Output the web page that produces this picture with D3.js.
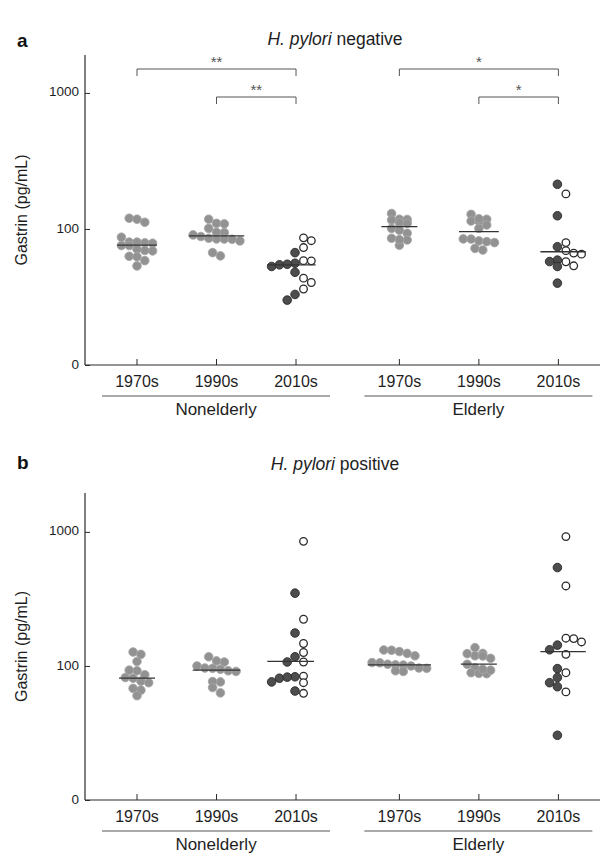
<!DOCTYPE html>
<html><head><meta charset="utf-8">
<script src="https://cdn.jsdelivr.net/npm/d3@7"></script>
<style>body{margin:0;background:#fff;} svg{display:block;font-family:"Liberation Sans",Arial,Helvetica,sans-serif;}</style>
</head><body><svg id="c" width="607" height="856"></svg>
<script>
// ---------- data ----------
const periods = ["1970s", "1990s", "2010s"];
const ageGroups = ["Nonelderly", "Elderly"];
const yTickValues = [10, 100, 1000];
const yTickLabels = ["0", "100", "1000"];

// Panel a: H. pylori negative (gastrin, pg/mL)
const negNon1970s = [120, 112, 118, 87, 80, 79, 78.6, 75.5, 75.5, 80, 69, 69.5, 71, 63, 62.5, 58.5, 53.5];
const negNon1990s = [110, 118, 109, 101, 94, 94.6, 84.5, 84.3, 84, 88, 85.5, 81.7, 90.4, 63.4, 67];
const negNon2010sFilled = [67, 56, 53, 54.5, 55, 48, 33, 30];
const negNon2010sOpen = [86, 82, 73, 58.3, 58.5, 43.5, 40.4, 36.2];
const negEld1970s = [130, 118, 117.5, 116.4, 111, 110, 101, 98, 93, 83, 76, 83.5, 85.5];
const negEld1990s = [128, 114.4, 114, 117.8, 119, 107, 101, 81.7, 79.4, 84.5, 84.3, 80.7, 72, 70];
const negEld2010sFilled = [213, 125, 74, 59, 53, 57.6, 40];
const negEld2010sOpen = [181, 79.4, 69.3, 65.3, 66.4, 57.4, 53.6];
const negMeans = [76, 89, 54.5, 104, 95.6, 68];

// Panel b: H. pylori positive
const posNon1970s = [127, 122, 108, 92, 93, 82, 77, 75, 81, 86, 66, 68, 60];
const posNon1990s = [117, 107, 109, 100, 96, 92, 91, 94.5, 96.5, 76, 76.5, 69, 63];
const posNon2010sFilled = [349, 176, 117, 107, 83, 81, 76, 82.5, 65];
const posNon2010sOpen = [850, 223, 147, 126, 107, 84, 75, 62.5];
const posEld1970s = [119, 131, 131.5, 128, 124, 102, 101.5, 96, 106, 91, 105.5, 92, 103, 96.5, 100];
const posEld1990s = [137, 119, 124, 114, 123.5, 118.5, 103, 97, 89, 88, 87.6, 93, 94.5];
const posEld2010sFilled = [542, 132, 143, 95.5, 82, 75, 70, 30.4];
const posEld2010sOpen = [922, 395, 161, 151, 160, 122, 89, 64];
const posMeans = [81, 93, 108, 102, 103, 128];

// significance brackets for panel a: [age, fromPeriod, toPeriod, label, level]
const negBrackets = [
  ["Nonelderly", "1970s", "2010s", "**", 0],
  ["Nonelderly", "1990s", "2010s", "**", 1],
  ["Elderly", "1970s", "2010s", "*", 0],
  ["Elderly", "1990s", "2010s", "*", 1]
];

// ---------- build ----------
function buildGroups(g, means) {
  return [
    {age: "Nonelderly", period: "1970s", gray: g[0], filled: [], open: [], mean: means[0]},
    {age: "Nonelderly", period: "1990s", gray: g[1], filled: [], open: [], mean: means[1]},
    {age: "Nonelderly", period: "2010s", gray: [], filled: g[2], open: g[3], mean: means[2]},
    {age: "Elderly", period: "1970s", gray: g[4], filled: [], open: [], mean: means[3]},
    {age: "Elderly", period: "1990s", gray: g[5], filled: [], open: [], mean: means[4]},
    {age: "Elderly", period: "2010s", gray: [], filled: g[6], open: g[7], mean: means[5]}
  ];
}
const panels = [
  {letter: "a", status: "negative", bottom: 365, top: 55, ymax: 1900, titleY: 40, letterY: 42,
   groups: buildGroups([negNon1970s, negNon1990s, negNon2010sFilled, negNon2010sOpen, negEld1970s, negEld1990s, negEld2010sFilled, negEld2010sOpen], negMeans),
   brackets: negBrackets},
  {letter: "b", status: "positive", bottom: 800, top: 493, ymax: 1950, titleY: 465, letterY: 464,
   groups: buildGroups([posNon1970s, posNon1990s, posNon2010sFilled, posNon2010sOpen, posEld1970s, posEld1990s, posEld2010sFilled, posEld2010sOpen], posMeans),
   brackets: []}
];

const svg = d3.select("#c");
const axisX = 85, axisRight = 600;
const R = 4.3, STEP = 7.8, BIN = 6;
const axisColor = "#2b2b2b";
const textColor = "#1e1e1e";

const slot = d3.scaleLinear().domain([0, 5.3]).range([137, 558.4]);
function xPos(age, period) {
  return slot(ageGroups.indexOf(age) * 3.3 + periods.indexOf(period));
}

// Prism-like row layout: points with close y share a row, spread horizontally
function rowOffsets(ys, dir) {
  const order = ys.map((_, i) => i).sort((a, b) => ys[a] - ys[b]);
  const rows = [];
  let cur = null;
  order.forEach(i => {
    if (!cur || ys[i] - ys[cur[0]] >= BIN) { cur = [i]; rows.push(cur); }
    else cur.push(i);
  });
  const offs = new Array(ys.length);
  rows.forEach(row => {
    const n = row.length;
    row.forEach((idx, k) => {
      offs[idx] = dir === 0 ? (k - (n - 1) / 2) * STEP : dir * k * STEP;
    });
  });
  return offs;
}

panels.forEach(P => {
  const y = d3.scaleLog().domain([10, P.ymax]).range([P.bottom, P.top]);
  const g = svg.append("g");

  // letter + title
  g.append("text").attr("x", 17).attr("y", P.letterY).attr("font-size", 19).attr("font-weight", "bold")
    .attr("fill", "#111").attr("dominant-baseline", "middle").text(P.letter);
  const t = g.append("text").attr("x", 335).attr("y", P.titleY).attr("text-anchor", "middle")
    .attr("dominant-baseline", "middle").attr("font-size", 17.5).attr("fill", textColor);
  t.append("tspan").attr("font-style", "italic").text("H. pylori");
  t.append("tspan").text(" " + P.status);

  // y axis
  const yAxis = d3.axisRight(y).tickValues(yTickValues).tickSize(5).tickFormat("");
  const ya = g.append("g").attr("transform", `translate(${axisX},0)`).call(yAxis);
  ya.select(".domain").remove();
  ya.selectAll("line").attr("stroke", axisColor);
  g.append("line").attr("x1", axisX).attr("x2", axisX).attr("y1", P.top).attr("y2", P.bottom)
    .attr("stroke", axisColor).attr("stroke-width", 1.2);
  g.selectAll(".ylab").data(yTickValues).join("text")
    .attr("x", axisX - 6).attr("y", d => y(d)).attr("text-anchor", "end")
    .attr("dominant-baseline", "middle").attr("font-size", 13.5).attr("fill", textColor)
    .text((d, i) => yTickLabels[i]);
  g.append("text").attr("transform", `translate(23,${(P.top + P.bottom) / 2}) rotate(-90)`)
    .attr("text-anchor", "middle").attr("dominant-baseline", "middle").attr("font-size", 16)
    .attr("fill", textColor).text("Gastrin (pg/mL)");

  // x axis
  g.append("line").attr("x1", axisX).attr("x2", axisRight).attr("y1", P.bottom).attr("y2", P.bottom)
    .attr("stroke", axisColor).attr("stroke-width", 1.2);
  P.groups.forEach(G => {
    const cx = xPos(G.age, G.period);
    g.append("line").attr("x1", cx).attr("x2", cx).attr("y1", P.bottom).attr("y2", P.bottom - 6)
      .attr("stroke", axisColor);
    g.append("text").attr("x", cx).attr("y", P.bottom + 18).attr("text-anchor", "middle")
      .attr("dominant-baseline", "middle").attr("font-size", 16).attr("fill", textColor).text(G.period);
  });
  ageGroups.forEach(a => {
    const x0 = xPos(a, "1970s") - 35, x1 = xPos(a, "2010s") + 34;
    g.append("line").attr("x1", x0).attr("x2", x1).attr("y1", P.bottom + 31).attr("y2", P.bottom + 31)
      .attr("stroke", "#555").attr("stroke-width", 1);
    g.append("text").attr("x", (x0 + x1) / 2).attr("y", P.bottom + 46).attr("text-anchor", "middle")
      .attr("dominant-baseline", "middle").attr("font-size", 17).attr("fill", textColor).text(a);
  });

  // dots
  P.groups.forEach(G => {
    const cx = xPos(G.age, G.period);
    const sets = [];
    if (G.gray.length) sets.push({vals: G.gray, base: cx, dir: 0, kind: "gray"});
    if (G.filled.length) sets.push({vals: G.filled, base: cx - 1, dir: -1, kind: "filled"});
    if (G.open.length) sets.push({vals: G.open, base: cx + 7.5, dir: 1, kind: "open"});
    let minX = Infinity, maxX = -Infinity;
    sets.forEach(S => {
      const ys = S.vals.map(v => y(v));
      const offs = rowOffsets(ys, S.dir);
      const pts = S.vals.map((v, i) => ({x: S.base + offs[i], y: ys[i]}));
      pts.forEach(p => { minX = Math.min(minX, p.x - R); maxX = Math.max(maxX, p.x + R); });
      g.selectAll(null).data(pts).join("circle")
        .attr("cx", d => d.x).attr("cy", d => d.y).attr("r", S.kind === "open" ? R - 0.5 : R)
        .attr("fill", S.kind === "gray" ? "#929292" : S.kind === "filled" ? "#4d4d4d" : "#fff")
        .attr("stroke", S.kind === "gray" ? "#a6a6a6" : "#2a2a2a")
        .attr("stroke-width", S.kind === "open" ? 1.3 : 0.9);
    });
    minX = Math.min(minX, cx - 18); maxX = Math.max(maxX, cx + 18);
    g.append("line").attr("x1", minX).attr("x2", maxX).attr("y1", y(G.mean)).attr("y2", y(G.mean))
      .attr("stroke", "#333").attr("stroke-width", 1.3);
  });

  // significance brackets
  P.brackets.forEach(b => {
    const x0 = xPos(b[0], b[1]), x1 = xPos(b[0], b[2]);
    const by = 69 + b[4] * 28;
    g.append("path").attr("d", `M${x0},${by + 7}V${by}H${x1}V${by + 7}`)
      .attr("fill", "none").attr("stroke", "#555").attr("stroke-width", 1);
    g.append("text").attr("x", (x0 + x1) / 2).attr("y", by - 6).attr("text-anchor", "middle")
      .attr("dominant-baseline", "middle").attr("font-size", 15).attr("fill", "#555").text(b[3]);
  });
});
</script></body></html>
